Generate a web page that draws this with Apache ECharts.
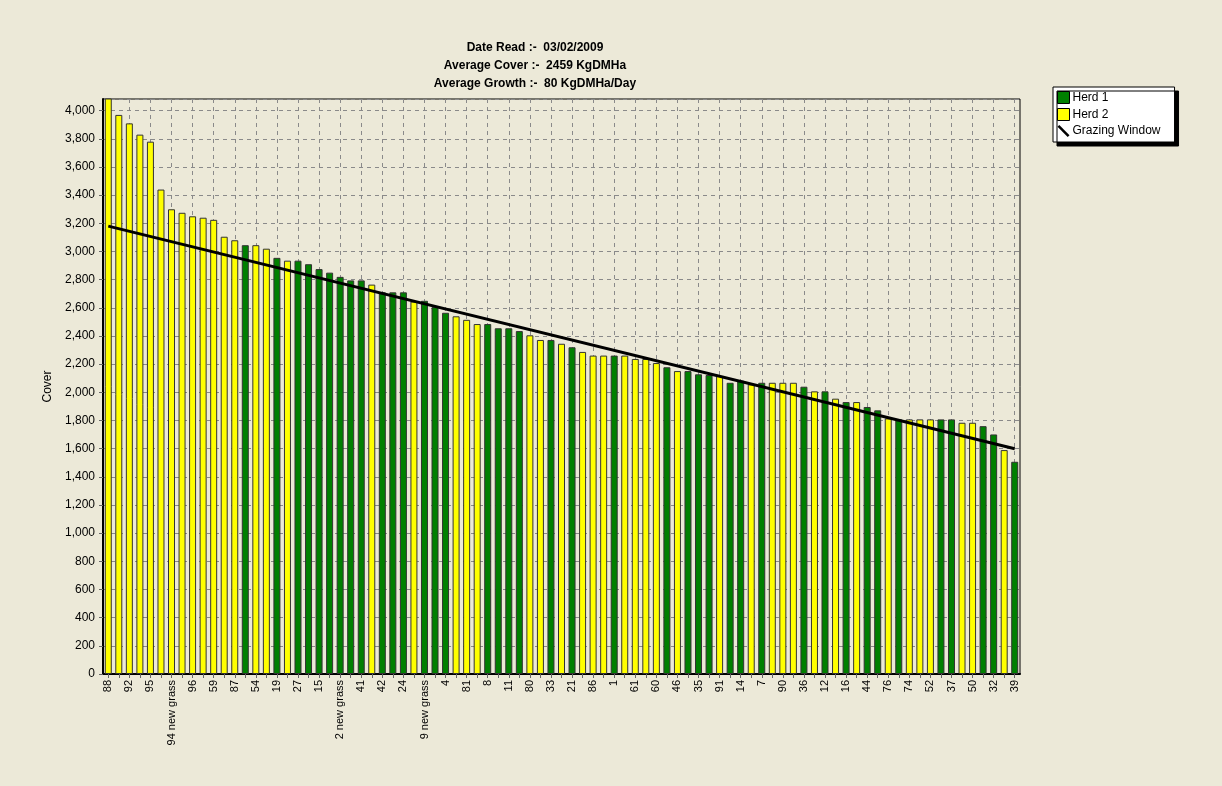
<!DOCTYPE html>
<html>
<head>
<meta charset="utf-8">
<script src="https://cdn.jsdelivr.net/npm/echarts@6/dist/echarts.min.js"></script>
<style>
html,body{margin:0;padding:0;background:#ECE9D8;}
#c{width:1222px;height:786px;}
</style>
</head>
<body>
<div id="c"></div>
<script>
// Paddock labels (only every other label is visible in the reference; hidden ones left blank)
const categories = [
  "88","","92","","95","","94 new grass","","96","","59","","87","","54","","19","","27","",
  "15","","2 new grass","","41","","42","","24","","9 new grass","","4","","81","","8","","11","",
  "80","","33","","21","","86","","1","","61","","60","","46","","35","","91","","14","",
  "7","","90","","36","","12","","16","","44","","76","","74","","52","","37","","50","",
  "32","","39"
];
// Cover per paddock (KgDM/Ha)
const coverValues = [
  4150,3970,3910,3830,3780,3440,3300,3275,3250,3240,3225,3105,3080,3045,3045,3020,2955,2935,2935,2910,
  2875,2850,2820,2795,2795,2765,2710,2710,2710,2645,2650,2605,2565,2540,2515,2485,2485,2455,2455,2435,
  2405,2372,2372,2345,2320,2287,2261,2261,2261,2261,2237,2237,2208,2178,2151,2151,2128,2123,2116,2068,
  2083,2057,2068,2068,2068,2068,2040,2007,2007,1955,1931,1931,1896,1872,1815,1808,1808,1808,1808,1808,
  1808,1784,1784,1760,1701,1590,1507
];
// Herd assignment per paddock (1 = Herd 1 green, 2 = Herd 2 yellow)
const herd = [
  2,2,2,2,2,2,2,2,2,2,2,2,2,1,2,2,1,2,1,1,
  1,1,1,1,1,2,1,1,1,2,1,1,1,2,2,2,1,1,1,1,
  2,2,1,2,1,2,2,2,1,2,2,2,2,1,2,1,1,1,2,1,
  1,2,1,2,2,2,1,2,1,2,1,2,1,1,2,1,2,2,2,1,
  1,2,2,1,1,2,1
];
// Grazing window: straight line from first to last paddock
const grazingStart = 3180;
const grazingEnd = 1600;
const yTicks = [0,200,400,600,800,1000,1200,1400,1600,1800,2000,2200,2400,2600,2800,3000,3200,3400,3600,3800,4000];

const herd1 = coverValues.map((v,i)=> herd[i]===1 ? v : null);
const herd2 = coverValues.map((v,i)=> herd[i]===2 ? v : null);
const grazing = coverValues.map((v,i)=> i===0 ? grazingStart : (i===coverValues.length-1 ? grazingEnd : null));

const chart = echarts.init(document.getElementById('c'));
const FONT = '"Liberation Sans", Arial, sans-serif';
chart.setOption({
  backgroundColor: '#ECE9D8',
  animation: false,
  textStyle: {fontFamily: FONT},
  title: {
    text: 'Date Read :-  03/02/2009\nAverage Cover :-  2459 KgDMHa\nAverage Growth :-  80 KgDMHa/Day',
    left: 530, top: 34, textAlign: 'center',
    textStyle: {fontFamily: FONT, fontSize: 12, fontWeight: 'bold', color: '#000', lineHeight: 18}
  },
  legend: {
    orient: 'vertical',
    left: 1053, top: 87,
    backgroundColor: '#fff',
    borderColor: '#000', borderWidth: 1,
    shadowColor: '#000', shadowOffsetX: 4, shadowOffsetY: 4, shadowBlur: 0,
    padding: [4, 14, 5, 4],
    itemGap: 4, itemWidth: 12, itemHeight: 12,
    textStyle: {fontFamily: FONT, fontSize: 12, color: '#000', padding: [0,0,0,-2]},
    data: [
      {name: 'Herd 1', icon: 'rect', itemStyle: {color: '#008000', borderColor: '#000', borderWidth: 1}},
      {name: 'Herd 2', icon: 'rect', itemStyle: {color: '#FFFF00', borderColor: '#000', borderWidth: 1}},
      {name: 'Grazing Window', icon: 'path://M0,1.5L1.5,0L10,8.5L8.5,10Z', itemStyle: {color: '#000'}}
    ]
  },
  grid: {left: 103, right: 202, top: 99, bottom: 112, show: true, backgroundColor: '#ECE9D8', borderColor: '#000', borderWidth: 1},
  xAxis: {
    type: 'category',
    data: categories,
    boundaryGap: true,
    axisLine: {lineStyle: {color: '#000', width: 2}},
    axisTick: {show: true, alignWithLabel: true, interval: 0, length: 4, lineStyle: {color: '#666'}},
    axisLabel: {rotate: 90, interval: 0, fontSize: 11, color: '#000', margin: 6, fontFamily: FONT},
    splitLine: {show: true, interval: 1, alignWithLabel: true, lineStyle: {color: '#8a8a8a', type: [4,4], width: 1}}
  },
  yAxis: {
    type: 'value',
    min: 0, max: 4083, interval: 200,
    name: 'Cover', nameLocation: 'middle', nameGap: 46,
    nameTextStyle: {fontFamily: FONT, fontSize: 12, color: '#000'},
    axisLine: {show: true, lineStyle: {color: '#000', width: 2}},
    axisTick: {show: true, length: 4, lineStyle: {color: '#666'}},
    axisLabel: {
      fontSize: 12, color: '#000', margin: 8, fontFamily: FONT, showMaxLabel: false,
      formatter: v => yTicks.indexOf(v) >= 0 ? v.toLocaleString('en-US') : ''
    },
    splitLine: {show: true, lineStyle: {color: '#8a8a8a', type: [4,4], width: 1}}
  },
  series: [
    {name: 'Herd 1', type: 'bar', data: herd1, barWidth: 7, barGap: '-100%', clip: true,
     itemStyle: {color: '#008000', borderColor: '#333', borderWidth: 1}},
    {name: 'Herd 2', type: 'bar', data: herd2, barWidth: 7, barGap: '-100%', clip: true,
     itemStyle: {color: '#FFFF00', borderColor: '#333', borderWidth: 1}},
    {name: 'Grazing Window', type: 'line', data: grazing, connectNulls: true, symbol: 'none',
     lineStyle: {color: '#000', width: 3}, z: 5}
  ]
});
</script>
</body>
</html>
